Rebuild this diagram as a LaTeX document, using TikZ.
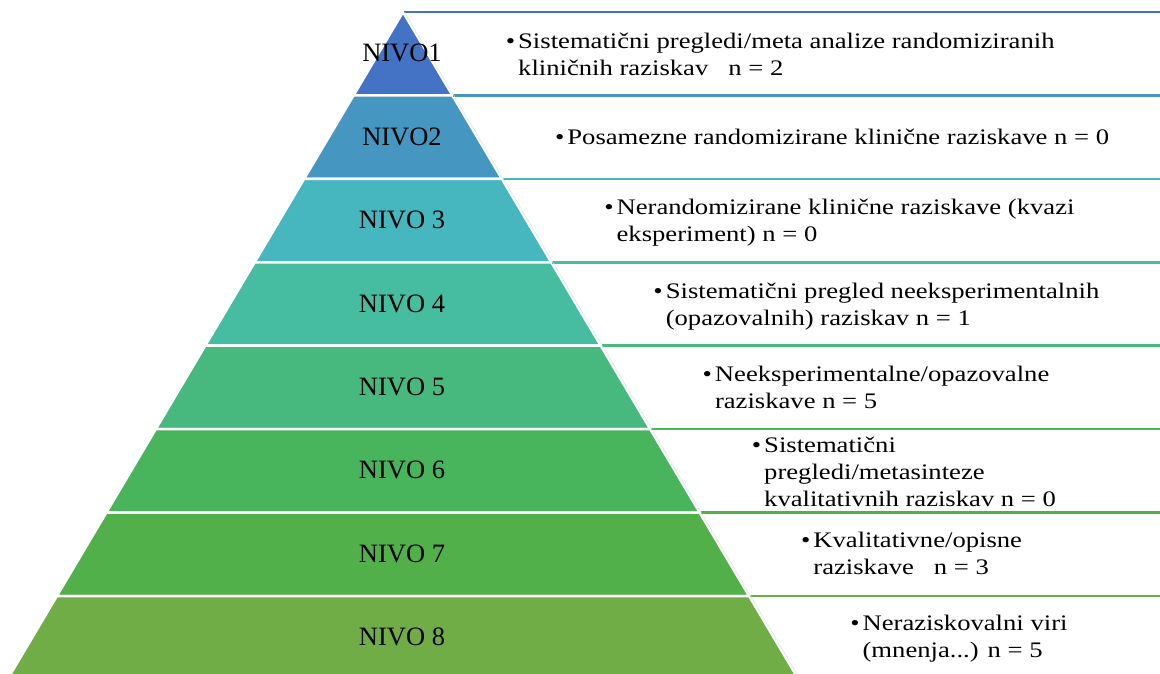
\documentclass[tikz,border=0pt]{standalone}
\usepackage{fontspec}
\setmainfont{Liberation Serif}
\newfontfamily\widefont[FakeStretch=1.2]{Liberation Serif}
\definecolor{c1}{HTML}{4472C4}
\definecolor{c2}{HTML}{4596C1}
\definecolor{c3}{HTML}{46B6BF}
\definecolor{c4}{HTML}{46BDA0}
\definecolor{c5}{HTML}{47B97F}
\definecolor{c6}{HTML}{48B45B}
\definecolor{c7}{HTML}{52B04A}
\definecolor{c8}{HTML}{70AD47}
\newcommand\bul{\llap{•\hspace{3pt}}}
\tikzset{
  band/.style={draw=white, line width=2.5pt},
  rule/.style={line width=2.5pt},
  lvl/.style={anchor=base, inner sep=0pt, font=\fontsize{26.5}{30}\selectfont},
  desc/.style={anchor=base west, inner sep=0pt, font=\widefont\fontsize{22.2}{27}\selectfont}
}
\begin{document}
\begin{tikzpicture}[x=1pt,y=-1pt]
\clip (0,0) rectangle (1160,673);
\fill[white] (0,0) rectangle (1160,673);
\foreach \i/\col in {1/c1,2/c2,3/c3,4/c4,5/c5,6/c6,7/c7,8/c8}{
  \pgfmathsetmacro\tp{12+83.43*(\i-1)}
  \pgfmathsetmacro\bt{\tp+83.43}
  \pgfmathsetmacro\wt{0.5927*(\tp-12)}
  \pgfmathsetmacro\wb{0.5927*(\bt-12)}
  \fill[\col, band] (403-\wt,\tp) -- (403+\wt,\tp) -- (403+\wb,\bt) -- (403-\wb,\bt) -- cycle;
}
\foreach \i/\col in {1/c1,2/c2,3/c3,4/c4,5/c5,6/c6,7/c7,8/c8}{
  \pgfmathsetmacro\tp{12+83.43*(\i-1)}
  \pgfmathsetmacro\wt{0.5927*(\tp-12)}
  \draw[\col, rule] (403+\wt+1,\tp) -- (1160,\tp);
}
\draw[black!12, line width=0.5pt] (404.5,12) -- (404.5+0.5927*668,680);
% level labels
\node[lvl] (n1) at (402,61.7)  {NIVO1};
\node[lvl] (n2) at (402,145.1) {NIVO2};
\node[lvl] (n3) at (402,228.6) {NIVO 3};
\node[lvl] (n4) at (402,312.0) {NIVO 4};
\node[lvl] (n5) at (402,395.4) {NIVO 5};
\node[lvl] (n6) at (402,478.9) {NIVO 6};
\node[lvl] (n7) at (402,562.3) {NIVO 7};
\node[lvl] (n8) at (402,645.7) {NIVO 8};
% descriptions
\node[desc] (t1) at (518,48) {\vtop{\hbox{\bul Sistematični pregledi/meta analize randomiziranih}\hbox{kliničnih raziskav\ \ \ n = 2}}};
\node[desc] (t2) at (567.2,144.8) {\vtop{\hbox{\bul Posamezne randomizirane klinične raziskave n = 0}}};
\node[desc] (t3) at (616.4,214.6) {\vtop{\hbox{\bul Nerandomizirane klinične raziskave (kvazi}\hbox{eksperiment) n = 0}}};
\node[desc] (t4) at (665.6,298) {\vtop{\hbox{\bul Sistematični pregled neeksperimentalnih}\hbox{(opazovalnih) raziskav n = 1}}};
\node[desc] (t5) at (714.8,381.4) {\vtop{\hbox{\bul Neeksperimentalne/opazovalne}\hbox{raziskave n = 5}}};
\node[desc] (t6) at (764,452) {\vtop{\hbox{\bul Sistematični}\hbox{pregledi/metasinteze}\hbox{kvalitativnih raziskav n = 0}}};
\node[desc] (t7) at (813.2,547.5) {\vtop{\hbox{\bul Kvalitativne/opisne}\hbox{raziskave\ \ \ n = 3}}};
\node[desc] (t8) at (862.4,630.5) {\vtop{\hbox{\bul Neraziskovalni viri}\hbox{(mnenja...) n = 5}}};
\end{tikzpicture}
\end{document}
